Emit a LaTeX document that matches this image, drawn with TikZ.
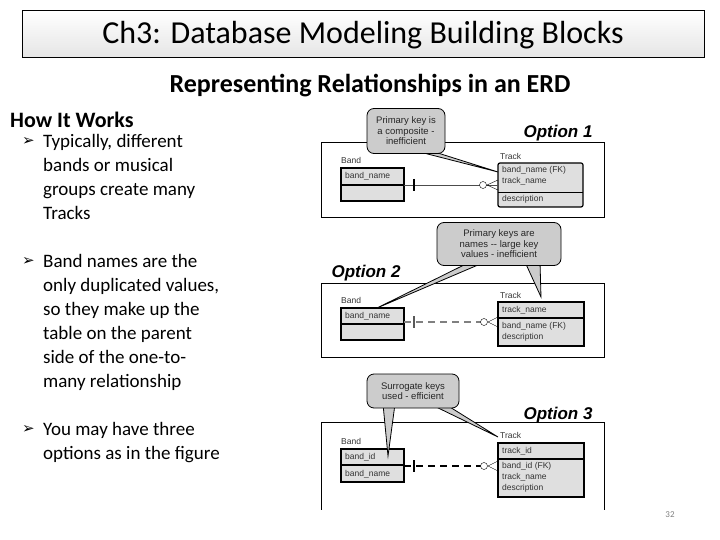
\documentclass[tikz,border=0pt]{standalone}
\usepackage{fontspec}
\setmainfont{Carlito}
\newfontfamily\arial{Liberation Sans}
\newfontfamily\dv{DejaVu Sans}
\begin{document}
\begin{tikzpicture}[x=1pt,y=-1pt,
  frame/.style={draw,line width=1pt},
  tbl/.style={draw,line width=1.2pt,fill=gray!25},
  bub/.style={draw,line width=0.8pt,fill=gray!40,rounded corners=7pt},
  small/.style={font=\arial\fontsize{8.5}{9.5}\selectfont,anchor=north west,inner sep=0pt,text=black!80},
  opt/.style={font=\arial\bfseries\itshape\fontsize{17}{17}\selectfont,anchor=center},
  btext/.style={font=\arial\fontsize{9.5}{10.5}\selectfont,align=center,text=black!85},
  bul/.style={font=\fontsize{19}{24}\selectfont,anchor=north west,align=left,inner sep=0pt}]
\useasboundingbox (0,0) rectangle (720,540);
% title
\node[draw,minimum width=682pt,minimum height=47pt,anchor=north west,top color=white,bottom color=gray!20] (tb) at (22,10) {};
\node[font=\fontsize{32}{34}\selectfont] (title) at (363,35) {Ch3: Database Modeling Building Blocks};
\node[font=\bfseries\fontsize{26}{28}\selectfont] (sub) at (370,86) {Representing Relationships in an ERD};
\node[font=\bfseries\fontsize{22}{24}\selectfont,anchor=west,inner sep=0pt] (how) at (10,120) {How It Works};
\node[font=\dv\fontsize{15}{15}\selectfont,anchor=north west,inner sep=0pt] (a1) at (22,137) {➢};
\node[bul] (b1) at (43,134) {Typically, different\\bands or musical\\groups create many\\Tracks};
\node[font=\dv\fontsize{15}{15}\selectfont,anchor=north west,inner sep=0pt] (a2) at (22,257) {➢};
\node[bul] (b2) at (43,254) {Band names are the\\only duplicated values,\\so they make up the\\table on the parent\\side of the one-to-\\many relationship};
\node[font=\dv\fontsize{15}{15}\selectfont,anchor=north west,inner sep=0pt] (a3) at (22,425) {➢};
\node[bul] (b3) at (43,422) {You may have three\\options as in the figure};
% Option 1
\draw[frame] (321,143) rectangle (604,218);
\node[opt] (o1) at (558,133) {Option 1};
\node[small] (bl1) at (341,157) {Band};
\draw[tbl] (341,168) rectangle (404,201); \draw[line width=1.2pt] (341,185)--(404,185);
\node[small] (bn1) at (345,172) {band\_name};
\node[small] (tl1) at (500,153) {Track};
\draw[tbl,rounded corners=2pt] (498,163) rectangle (583,207); \draw (498,192)--(583,192);
\node[small] (t1a) at (502,166) {band\_name (FK)};
\node[small] (t1b) at (502,177) {track\_name};
\node[small] (t1c) at (502,195) {description};
\draw[gray!60!black] (404,185)--(498,185);
\draw[line width=1.2pt] (414,179)--(414,191);
\draw[fill=white] (483,185) circle (3.5);
\draw (487,185)--(498,180) (487,185)--(498,190);
\draw[bub,rounded corners=0pt] (412,150)--(498,172)--(422,148)--cycle;
\node[bub,minimum width=78pt,minimum height=45pt,btext] (c1) at (406,131) {Primary key is\\a composite -\\inefficient};
% Option 2
\draw[frame] (321,283) rectangle (604,357);
\node[opt] (o2) at (366,273) {Option 2};
\node[small] (bl2) at (341,297) {Band};
\draw[tbl] (341,308) rectangle (404,340); \draw[line width=1.2pt] (341,324)--(404,324);
\node[small] (bn2) at (345,312) {band\_name};
\node[small] (tl2) at (500,292) {Track};
\draw[tbl] (498,302) rectangle (584,346); \draw[line width=1.2pt] (498,318)--(584,318);
\node[small] (t2a) at (502,306) {track\_name};
\node[small] (t2b) at (502,322) {band\_name (FK)};
\node[small] (t2c) at (502,333) {description};
\draw[gray,line width=1.5pt,dash pattern=on 7pt off 5pt] (404,322)--(482,322);
\draw[gray!70!black,line width=1.2pt] (414,316)--(414,328);
\draw[fill=white] (484,322) circle (3.5);
\draw (488,322)--(498,317) (488,322)--(498,327);
\draw[bub,rounded corners=0pt] (470,262)--(377,308)--(485,262)--cycle;
\draw[bub,rounded corners=0pt] (525,262)--(541,297)--(540,262)--cycle;
\node[bub,minimum width=124pt,minimum height=43pt,btext] (c2) at (499,244) {Primary keys are\\names -- large key\\values - inefficient};
% Option 3
\draw[frame] (321,422) -- (321,510) (321,422) -- (604,422) -- (604,510);
\node[opt] (o3) at (558,415) {Option 3};
\node[small] (bl3) at (341,438) {Band};
\draw[tbl] (341,449) rectangle (404,482); \draw[line width=1.2pt] (341,465)--(404,465);
\node[small] (bn3a) at (345,453) {band\_id};
\node[small] (bn3b) at (345,470) {band\_name};
\node[small] (tl3) at (500,432) {Track};
\draw[tbl] (498,443) rectangle (584,497); \draw[line width=1.2pt] (498,459)--(584,459);
\node[small] (t3a) at (502,447) {track\_id};
\node[small] (t3b) at (502,462) {band\_id (FK)};
\node[small] (t3c) at (502,473) {track\_name};
\node[small] (t3d) at (502,484) {description};
\draw[line width=1.5pt,dash pattern=on 7pt off 5pt] (404,466)--(482,466);
\draw[line width=1.2pt] (414,460)--(414,472);
\draw[fill=white] (484,466) circle (3.5);
\draw (488,466)--(498,461) (488,466)--(498,471);
\draw[bub,rounded corners=0pt] (383,404)--(388,456)--(395,404)--cycle;
\draw[bub,rounded corners=0pt] (430,404)--(498,437)--(445,404)--cycle;
\node[bub,minimum width=92pt,minimum height=34pt,btext] (c3) at (413,391) {Surrogate keys\\used - efficient};
% page number
\node[font=\fontsize{9}{9}\selectfont,text=gray] (pn) at (670,515) {32};
\end{tikzpicture}
\end{document}
